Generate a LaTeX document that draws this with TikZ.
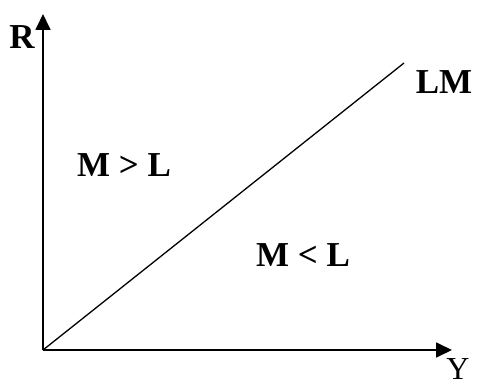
\documentclass[tikz,border=0pt]{standalone}
\usepackage{fontspec}
\setmainfont{Liberation Serif}
\usetikzlibrary{arrows.meta}
\begin{document}
\begin{tikzpicture}[x=1pt,y=1pt,
  axis/.style={line width=1.8pt,-{Triangle[length=16pt,width=15pt]}},
  curve/.style={line width=1.3pt},
  lbl/.style={inner sep=0pt,font=\fontsize{35}{35}\selectfont\bfseries},
  axlbl/.style={inner sep=0pt,font=\fontsize{32}{32}\selectfont}]
\useasboundingbox (0,0) rectangle (478,389);
\coordinate (O) at (43,39);
\coordinate (ytop) at (43,375);
\coordinate (xend) at (452,39);
\coordinate (lmend) at (404,326);
\draw[axis] (O) -- (ytop);
\draw[axis] (O) -- (xend);
\draw[curve] (O) -- (lmend);
\node[lbl] (R) at (22,352) {R};
\node[axlbl] (Y) at (458,20) {Y};
\node[lbl] (LM) at (444,307) {LM};
\node[lbl] (ML1) at (124,224) {M > L};
\node[lbl] (ML2) at (303,134) {M < L};
\end{tikzpicture}
\end{document}
